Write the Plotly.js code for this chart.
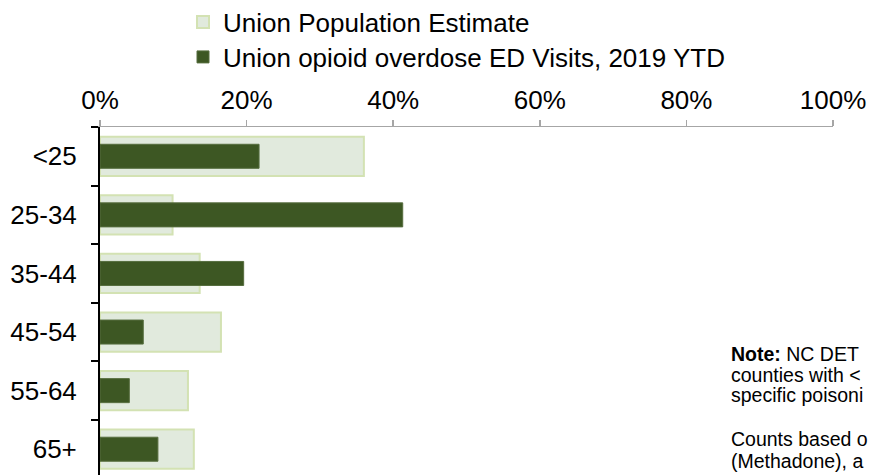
<!DOCTYPE html>
<html>
<head>
<meta charset="utf-8">
<script src="https://cdn.plot.ly/plotly-3.0.1.min.js"></script>
<style>html,body{margin:0;padding:0;background:#fff;}#chart{width:871px;height:475px;}</style>
</head>
<body>
<div id="chart"></div>
<script>
var ageGroups = ['<25', '25-34', '35-44', '45-54', '55-64', '65+'];
var populationShare = [0.360, 0.099, 0.136, 0.165, 0.120, 0.128];
var edVisitShare = [0.217, 0.413, 0.196, 0.059, 0.040, 0.079];
var seriesNames = ['Union Population Estimate', 'Union opioid overdose ED Visits, 2019 YTD'];
var xTickValues = [0, 0.2, 0.4, 0.6, 0.8, 1.0];
// The note is cut off by the right edge of the reference; only its visible part is kept.
var noteLines = [
  '<b>Note:</b> NC DET',
  'counties with <',
  'specific poisoni',
  '',
  'Counts based o',
  '(Methadone), a'
];

var FONT = 'Liberation Sans, Arial, sans-serif';

var traces = [
  {
    type: 'bar', orientation: 'h', name: seriesNames[0],
    y: ageGroups, x: populationShare, width: 0.67,
    marker: {color: '#e1eadd', line: {color: '#d3e2b3', width: 2}},
    legend: 'legend', hoverinfo: 'x+y'
  },
  {
    type: 'bar', orientation: 'h', name: seriesNames[1],
    y: ageGroups, x: edVisitShare, width: 0.41,
    marker: {color: '#3d5723', line: {color: '#566d3e', width: 1}},
    legend: 'legend2', hoverinfo: 'x+y'
  }
];

var annotations = [];
var lineY = [354, 375, 395, null, 439, 461];
noteLines.forEach(function (t, i) {
  if (!t) return;
  annotations.push({
    xref: 'paper', yref: 'paper',
    x: (729 - 100) / 733, y: 1 - (lineY[i] - 127) / 348,
    xanchor: 'left', yanchor: 'middle', showarrow: false, align: 'left',
    text: t, font: {family: FONT, size: 19.5, color: '#000'}
  });
});

function legendAt(yCenter) {
  return {
    xref: 'container', yref: 'container',
    x: 183 / 871, y: 1 - yCenter / 475, xanchor: 'left', yanchor: 'middle',
    font: {family: FONT, size: 26, color: '#000'},
    bgcolor: 'rgba(0,0,0,0)', borderwidth: 0
  };
}

var layout = {
  width: 871, height: 475,
  margin: {l: 100, r: 38, t: 127, b: 0, pad: 0, autoexpand: false},
  paper_bgcolor: '#fff', plot_bgcolor: '#fff',
  barmode: 'overlay',
  font: {family: FONT, color: '#000', size: 26},
  showlegend: true,
  legend: legendAt(22),
  legend2: legendAt(57),
  xaxis: {
    side: 'top', range: [0, 1], tickvals: xTickValues, tickformat: '.0%',
    tickangle: 0, automargin: false,
    showgrid: false, zeroline: false,
    showline: true, linecolor: '#a6a6a6', linewidth: 1.5,
    ticks: 'outside', ticklen: 6, tickcolor: '#a6a6a6', tickwidth: 1.5,
    tickfont: {family: FONT, size: 26, color: '#000'},
    fixedrange: true
  },
  yaxis: {
    type: 'category', categoryorder: 'array', categoryarray: ageGroups,
    range: [5.44, -0.5], automargin: false,
    showgrid: false, zeroline: false,
    showline: true, linecolor: '#000', linewidth: 2,
    ticks: 'outside', tickson: 'boundaries', ticklen: 7, tickcolor: '#000', tickwidth: 2,
    tickfont: {family: FONT, size: 26, color: '#000'},
    ticklabelstandoff: 16,
    fixedrange: true
  },
  annotations: annotations
};

Plotly.newPlot('chart', traces, layout, {displayModeBar: false, staticPlot: true});
</script>
</body>
</html>
